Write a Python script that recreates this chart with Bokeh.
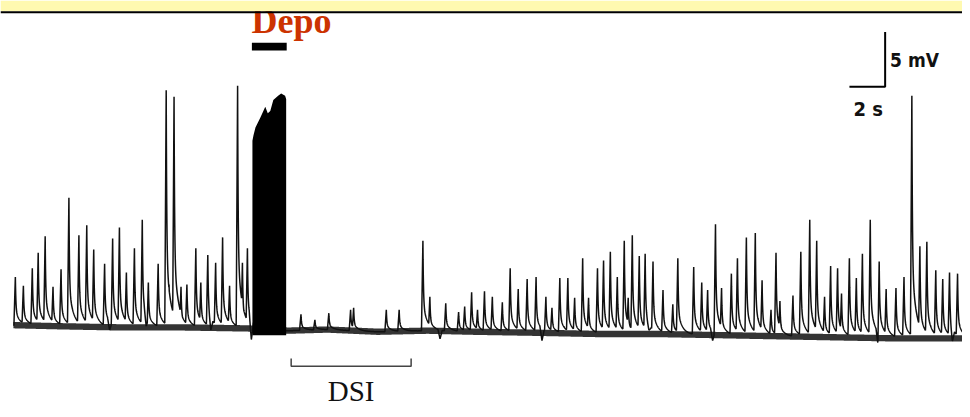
import numpy as np
from bokeh.plotting import figure
from bokeh.models import Range1d, BoxAnnotation, Span
from bokeh.embed import file_html
from bokeh.resources import INLINE
from bokeh.core.properties import value

# ---------------- data (time in s, membrane potential in mV relative to rest) ----------------
spike_t = [0.11, 0.56, 1.06, 1.39, 1.78, 2.22, 2.67, 3.11, 3.67, 4.11, 4.50, 5.11, 5.56, 5.94,
           6.33, 6.78, 7.22, 7.56, 8.11, 8.56, 8.72, 9.00, 9.39, 9.72, 10.22, 10.50, 10.89,
           11.33, 11.72, 12.11, 12.56, 12.83, 13.11,
           16.11, 16.89, 17.67, 18.89, 19.06, 20.89, 21.61, 22.94, 23.33, 24.22, 24.94, 25.28,
           25.67, 26.00, 26.39, 26.83, 27.39, 27.83, 28.28, 28.78, 29.28, 29.83, 30.17, 30.61,
           31.06, 31.44, 31.89, 32.22, 32.72, 33.06, 33.44, 33.83, 34.22, 34.44, 34.67, 35.06,
           35.39, 35.83, 36.39, 36.94, 37.22, 38.11, 38.56, 38.89, 39.33, 39.67, 40.22, 40.56,
           41.06, 41.56, 41.94, 42.44, 42.72, 42.94, 43.67, 44.11, 44.61, 45.00, 45.44, 45.78,
           46.17, 46.39, 46.83, 47.22, 47.56, 48.00, 48.50, 48.89, 49.44, 49.89, 50.33, 50.78,
           51.17, 51.67, 52.06, 52.44, 52.89]
spike_mv = [4.3, 3.5, 5.1, 6.5, 8.0, 3.4, 5.0, 11.5, 8.1, 9.0, 6.8, 5.5, 7.8, 8.8,
            4.7, 6.9, 9.5, 3.8, 5.5, 21.3, 3.6, 20.7, 3.4, 3.6, 6.9, 3.8, 6.3,
            5.6, 7.9, 3.5, 21.7, 5.6, 6.9,
            0.9, 0.4, 1.0, 1.3, 1.5, 1.3, 1.3, 7.6, 2.5, 1.9, 1.1, 1.6,
            2.9, 1.3, 3.0, 2.5, 2.0, 5.1, 3.2, 4.1, 4.3, 2.5, 1.5, 4.2,
            4.2, 2.4, 6.0, 2.4, 5.1, 5.8, 6.6, 4.3, 7.6, 2.4, 8.1, 6.2,
            6.4, 5.7, 3.1, 1.8, 6.0, 5.2, 3.8, 3.1, 9.1, 3.3, 4.6, 6.0,
            7.9, 8.3, 4.0, 1.3, 6.5, 2.1, 2.6, 6.6, 9.5, 7.6, 2.5, 5.3,
            5.1, 2.8, 6.0, 4.2, 6.4, 9.5, 6.3, 3.2, 3.3, 4.3, 20.8, 7.1,
            7.5, 4.9, 4.1, 4.7, 4.6]

base_t = [0.0, 2.6, 5.9, 9.3, 13.2, 15.4, 17.6, 20.4, 23.2, 25.9, 29.6, 32.6, 35.9,
          39.3, 42.6, 45.9, 49.3, 53.2]
base_mv = [-0.1, -0.2, -0.3, -0.3, -0.4, -0.6, -0.5, -0.7, -0.6, -0.7, -0.8, -0.9, -0.9,
           -1.0, -1.1, -1.2, -1.3, -1.3]

dip_t = [5.39, 7.44, 11.06, 13.33, 23.9, 29.61, 35.6, 39.17, 48.44, 52.6]
dip_mv = [-0.8, -1.1, -1.2, -1.9, -0.8, -1.1, -0.6, -0.9, -1.2, -1.2]

depo_t = [13.39, 13.45, 13.56, 13.83, 14.11, 14.25, 14.39, 14.56, 14.83, 15.00, 15.22, 15.28]
depo_top = [16.7, 17.2, 17.9, 18.8, 19.8, 19.2, 19.4, 20.4, 20.8, 21.0, 20.8, 20.5]
depo_floor = -1.0

dsi_start, dsi_end = 15.56, 22.28
scale_s, scale_mv = 2, 5

# ---------------- layout helpers (reference pixels -> data) ----------------
PX_S, PX_MV = 18.0, 11.2
def px(x):
    return (x - 13) / PX_S
def py(y):
    return (330 - y) / PX_MV
def ty(y_base, size):
    # compensate the svg text baseline offset observed in rendering
    return py(y_base - 0.35 * size)

p = figure(width=962, height=409, output_backend="svg", toolbar_location=None,
           x_range=Range1d(px(0), px(970)), y_range=Range1d(py(417), py(0)),
           min_border=0, background_fill_color="white", border_fill_color="white")
p.axis.visible = False
p.grid.visible = False
p.outline_line_color = None

# ---------------- trace ----------------
t = np.arange(0.0, 53.2, 0.01)
base = np.interp(t, base_t, base_mv)
st = np.array(spike_t)[:, None]
amp = np.array(spike_mv) - np.interp(spike_t, base_t, base_mv)
tau = t[None, :] - st
k = np.where(tau < 0, np.clip(1 + tau / 0.08, 0, 1),
             0.7 * np.exp(-np.abs(tau) / 0.03) + 0.3 * np.exp(-np.abs(tau) / 0.25))
ev = (amp[:, None] * k).max(axis=0)
dt_ = t[None, :] - np.array(dip_t)[:, None]
dk = np.clip(1 - np.abs(dt_) / 0.12, 0, 1)
dips = (np.array(dip_mv)[:, None] * dk).min(axis=0)
v = base + ev + dips

p.varea(x=t, y1=base - 0.28, y2=base + 0.3, fill_color="#111111", fill_alpha=0.85)
p.line(t, v, line_color="#111111", line_width=1.5)

# depolarisation burst
p.varea(x=depo_t, y1=[depo_floor] * len(depo_t), y2=depo_top, fill_color="black")

# ---------------- annotations ----------------
p.text(x=[px(253)], y=[ty(34, 36)], text=["Depo"], text_font=value("Liberation Serif"),
       text_font_style="bold", text_font_size="36px", text_color="#cc3300",
       text_baseline="alphabetic", text_align="left")
p.quad(left=[depo_t[0] - 0.03], right=[depo_t[-1] + 0.03], top=[py(43)], bottom=[py(51)],
       fill_color="black", line_color=None)

# scale bar
x0, y0 = px(856), py(88)
p.line([x0, x0 + scale_s, x0 + scale_s], [y0, y0, y0 + scale_mv], line_color="black",
       line_width=2)
p.text(x=[px(897)], y=[ty(67, 19)], text=[f"{scale_mv} mV"],
       text_font=value("DejaVu Sans Condensed"), text_font_style="bold",
       text_font_size="19px", text_color="#111111", text_baseline="alphabetic")
p.text(x=[px(875)], y=[ty(118, 20)], text=[f"{scale_s} s"],
       text_font=value("DejaVu Sans Condensed"), text_font_style="bold",
       text_font_size="20px", text_color="#111111", text_baseline="alphabetic",
       text_align="center")

# DSI bracket
yb, yt = py(373), py(365)
p.line([dsi_start, dsi_start, dsi_end, dsi_end], [yt, yb, yb, yt], line_color="#444444",
       line_width=1.5)
p.text(x=[(dsi_start + dsi_end) / 2], y=[ty(408, 29)], text=["DSI"],
       text_font=value("Liberation Serif"), text_font_size="29px", text_color="#111111",
       text_baseline="alphabetic", text_align="center")

# banner on top
p.add_layout(BoxAnnotation(top=py(0), bottom=py(11), fill_color="#fff9b0", fill_alpha=1,
                           line_color=None, level="overlay"))
p.add_layout(Span(location=py(12), dimension="width", line_color="black", line_width=2,
                  level="overlay"))

open("out.html", "w").write(file_html(p, INLINE))
